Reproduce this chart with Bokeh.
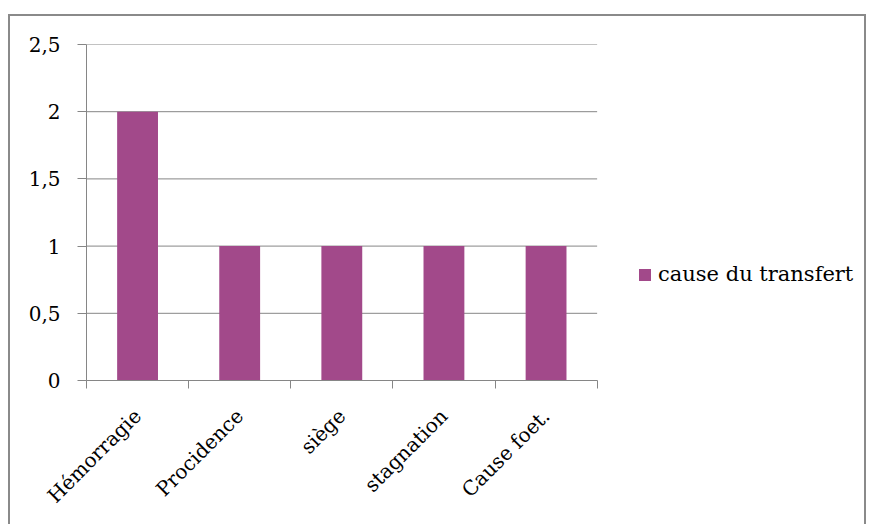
from bokeh.plotting import figure
from bokeh.models import ColumnDataSource, FixedTicker, Legend, LegendItem
from bokeh.embed import file_html
from bokeh.resources import INLINE
import math

categories = ["Hémorragie", "Procidence", "siège", "stagnation", "Cause foet."]
values = [2, 1, 1, 1, 1]
series_name = "cause du transfert"
y_ticks = [0, 0.5, 1, 1.5, 2, 2.5]
y_tick_labels = ["0", "0,5", "1", "1,5", "2", "2,5"]

FONT = "DejaVu Serif"
FS = "20px"
BAR = "#A2498A"
GRAY = "#868686"

n = len(categories)
xs = [i + 0.5 for i in range(n)]
src = ColumnDataSource(dict(x=xs, top=values))
grid_src = ColumnDataSource(dict(x0=[0] * len(y_ticks), x1=[n] * len(y_ticks), y=y_ticks))

# frame: category area is 508px wide, frame extends to 774px to host the legend
FRAME_W = 774
CAT_W = 508
p = figure(width=858, height=512, x_range=(0, n * FRAME_W / CAT_W), y_range=(0, 2.5),
           output_backend="svg", toolbar_location=None,
           min_border_left=76, min_border_top=28, min_border_right=4, min_border_bottom=148)
p.margin = (14, 0, 0, 8)
p.styles = {"border": "2px solid #8a8a8a", "border-bottom": "none", "box-sizing": "border-box"}
p.outline_line_color = None
p.background_fill_color = "white"
p.border_fill_color = "white"

# horizontal gridlines over the category area only
p.segment(x0="x0", x1="x1", y0="y", y1="y", source=grid_src, line_color=GRAY, line_width=1)

r = p.vbar(x="x", top="top", width=0.4, bottom=0, source=src, fill_color=BAR, line_color=None)

# y axis
p.yaxis.ticker = FixedTicker(ticks=y_ticks, minor_ticks=[])
p.yaxis.major_label_overrides = {t: l for t, l in zip(y_ticks, y_tick_labels)}
p.yaxis.axis_line_color = GRAY
p.yaxis.major_tick_line_color = GRAY
p.yaxis.major_tick_out = 9
p.yaxis.major_tick_in = 0
p.yaxis.minor_tick_line_color = None
p.yaxis.major_label_standoff = 17
p.yaxis.major_label_text_font = FONT
p.yaxis.major_label_text_font_size = FS
p.yaxis.major_label_text_color = "black"

# x axis
p.xaxis.bounds = (0, n)
p.xaxis.ticker = FixedTicker(ticks=xs, minor_ticks=list(range(n + 1)))
p.xaxis.major_label_overrides = {x: c for x, c in zip(xs, categories)}
p.xaxis.major_label_orientation = math.pi / 4
p.xaxis.axis_line_color = GRAY
p.xaxis.major_tick_line_color = None
p.xaxis.minor_tick_line_color = GRAY
p.xaxis.minor_tick_out = 8
p.xaxis.minor_tick_in = 0
p.xaxis.major_label_standoff = 24
p.xaxis.major_label_text_font = FONT
p.xaxis.major_label_text_font_size = FS
p.xaxis.major_label_text_color = "black"

p.xgrid.grid_line_color = None
p.ygrid.grid_line_color = None

legend = Legend(items=[LegendItem(label=series_name, renderers=[r])],
                location=(551, 94), orientation="vertical",
                border_line_color=None, background_fill_alpha=0,
                label_text_font=FONT, label_text_font_size="21px", label_text_color="black",
                glyph_width=15, glyph_height=15, padding=0, margin=0, label_standoff=6)
p.add_layout(legend, "center")

open("out.html", "w").write(file_html(p, INLINE))
